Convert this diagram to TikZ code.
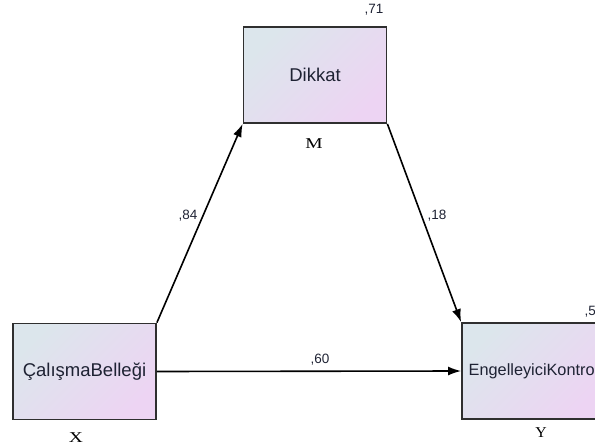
\documentclass[tikz,border=0pt]{standalone}
\usepackage{fontspec}
\setmainfont{Liberation Serif}
\setsansfont{Liberation Sans}
\usetikzlibrary{arrows.meta}

\definecolor{boxtop}{HTML}{DCE6EC}
\definecolor{boxbottom}{HTML}{EDD4F3}
\definecolor{boxline}{HTML}{2F2F2F}
\definecolor{labeltext}{HTML}{1E2233}

\tikzset{
        var/.style={draw=boxline, line width=1.8pt, minimum width=143pt,
            minimum height=96pt, inner sep=0pt, top color=boxtop,
            bottom color=boxbottom, shading angle=45, text=labeltext,
            font=\sffamily\fontsize{18.5}{20}\selectfont},
        effect/.style={line width=1.6pt, -{Latex[length=13pt, width=9pt]}},
        coef/.style={text=labeltext, font=\sffamily\fontsize{13.5}{15}\selectfont},
        role/.style={font=\fontsize{15}{17}\selectfont}
}

\begin{document}
\begin{tikzpicture}[x=1pt, y=-1pt]
        \useasboundingbox (0, 0) rectangle (595, 447);
        \clip (0, 0) rectangle (595, 447);
        % variables
        \node (dikkat) at (315, 75) [var] {Dikkat};
        \node (calisma) at (84.5, 371.5) [var] {ÇalışmaBelleği};
        \node (engel) at (533.5, 371) [var, font=\sffamily\fontsize{16.3}{18}\selectfont] {EngelleyiciKontrol};
        % paths
        \draw [effect] (calisma.north east) -- (dikkat.south west);
        \draw [effect] (dikkat.south east) -- (engel.north west);
        \draw [effect] (calisma.east) -- (engel.west);
        % coefficients
        \node (r71) at (374, 10) [coef] {,71};
        \node (r5) at (581, 312) [coef, anchor=west] {,5};
        \node (b84) at (188, 216) [coef] {,84};
        \node (b18) at (437, 216) [coef] {,18};
        \node (b60) at (320, 360) [coef] {,60};
        % roles
        \node (mlab) at (314, 144) [role] {\scalebox{1.3}[1]{M}};
        \node (xlab) at (76, 438) [role] {\scalebox{1.3}[1]{X}};
        \node (ylab) at (541, 433) [role] {\scalebox{1.05}[1]{Y}};
\end{tikzpicture}
\end{document}
